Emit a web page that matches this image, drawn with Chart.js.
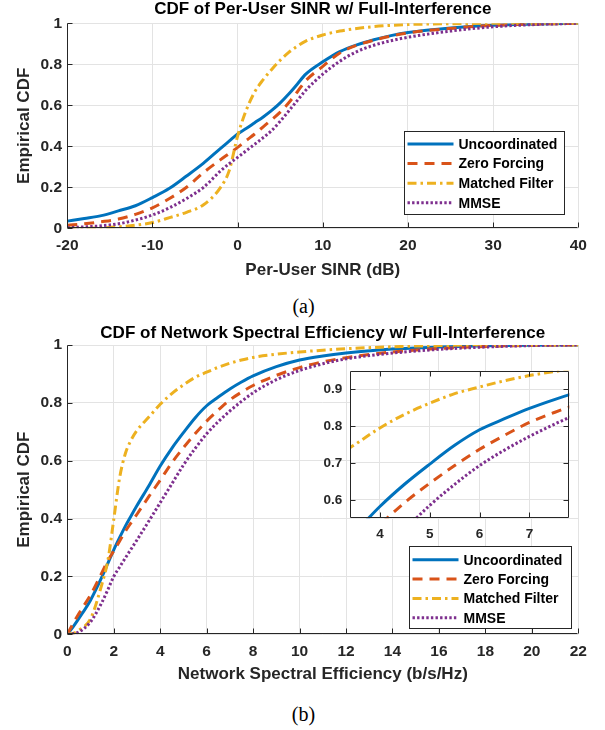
<!DOCTYPE html>
<html>
<head>
<meta charset="utf-8">
<script src="https://cdn.jsdelivr.net/npm/chart.js@4.4.1/dist/chart.umd.min.js"></script>
<style>
  body { margin: 0; background: #fff; width: 605px; height: 730px; position: relative; overflow: hidden; }
  canvas { position: absolute; }
  .cap { position: absolute; left: 0; width: 607px; text-align: center; font: 20px "Liberation Serif", "Times New Roman", serif; color: #000; }
</style>
</head>
<body>
<canvas id="chartA" width="605" height="290" style="left:0;top:0"></canvas>
<div class="cap" style="top:295px">(a)</div>
<canvas id="chartB" width="605" height="366" style="left:0;top:324px"></canvas>
<canvas id="inset" width="270" height="200" style="left:310px;top:355px"></canvas>
<div class="cap" style="top:703px">(b)</div>
<script>
// series shared by both plots
const seriesNames = ['Uncoordinated', 'Zero Forcing', 'Matched Filter', 'MMSE'];
const lineColors = ['#0072BD', '#D95319', '#EDB120', '#7E2F8E'];
const lineDashes = [[], [10, 7], [9, 4, 2.5, 4], [2.4, 2.2]];

// (a) per-user SINR (dB)
const sinrX    = [-20, -18, -16, -14, -12, -10, -8, -6, -4, -2, -1, 0, 1, 2, 3, 4, 5, 6, 7, 8, 10, 12, 14, 16, 18, 20, 25, 30, 35, 40];
const sinrUnc  = [0.035, 0.048, 0.062, 0.085, 0.11, 0.15, 0.195, 0.255, 0.318, 0.39, 0.425, 0.46, 0.487, 0.515, 0.543, 0.575, 0.612, 0.655, 0.703, 0.752, 0.812, 0.862, 0.895, 0.92, 0.94, 0.955, 0.977, 0.99, 0.996, 1];
const sinrZF   = [0.015, 0.022, 0.032, 0.045, 0.068, 0.1, 0.145, 0.2, 0.272, 0.335, 0.365, 0.395, 0.428, 0.46, 0.495, 0.53, 0.567, 0.612, 0.665, 0.72, 0.79, 0.855, 0.893, 0.918, 0.938, 0.953, 0.975, 0.99, 0.996, 1];
const sinrMF   = [0, 0, 0.002, 0.007, 0.015, 0.028, 0.052, 0.078, 0.115, 0.2, 0.28, 0.45, 0.575, 0.665, 0.725, 0.775, 0.82, 0.858, 0.888, 0.913, 0.943, 0.962, 0.975, 0.984, 0.99, 0.994, 0.998, 1, 1, 1];
const sinrMMSE = [0.003, 0.007, 0.012, 0.022, 0.04, 0.065, 0.1, 0.145, 0.2, 0.28, 0.315, 0.346, 0.378, 0.41, 0.442, 0.477, 0.522, 0.572, 0.623, 0.673, 0.752, 0.815, 0.862, 0.893, 0.915, 0.932, 0.962, 0.983, 0.994, 1];
const sinrTicks = [-20, -10, 0, 10, 20, 30, 40];

// (b) network spectral efficiency (b/s/Hz)
const seX    = [0, 0.25, 0.5, 1, 1.5, 1.75, 2, 2.25, 2.5, 2.75, 3, 3.5, 4, 4.5, 5, 5.5, 6, 6.5, 7, 7.5, 8, 9, 10, 11, 12, 14, 16, 18, 20, 22];
const seUnc  = [0, 0.026, 0.055, 0.118, 0.2, 0.246, 0.292, 0.334, 0.374, 0.41, 0.445, 0.512, 0.582, 0.643, 0.697, 0.748, 0.79, 0.82, 0.848, 0.872, 0.893, 0.925, 0.948, 0.962, 0.972, 0.986, 0.993, 0.997, 0.999, 1];
const seZF   = [0, 0.037, 0.072, 0.136, 0.215, 0.255, 0.288, 0.322, 0.356, 0.386, 0.415, 0.475, 0.533, 0.593, 0.645, 0.693, 0.737, 0.775, 0.81, 0.837, 0.86, 0.895, 0.922, 0.942, 0.956, 0.976, 0.988, 0.995, 0.999, 1];
const seMF   = [0, 0.003, 0.014, 0.054, 0.176, 0.257, 0.397, 0.54, 0.625, 0.672, 0.705, 0.75, 0.795, 0.832, 0.862, 0.888, 0.906, 0.923, 0.937, 0.948, 0.957, 0.968, 0.976, 0.982, 0.987, 0.994, 0.998, 1, 1, 1];
const seMMSE = [0, 0.002, 0.008, 0.043, 0.112, 0.155, 0.2, 0.232, 0.264, 0.295, 0.326, 0.39, 0.455, 0.52, 0.585, 0.642, 0.693, 0.735, 0.772, 0.805, 0.835, 0.88, 0.912, 0.935, 0.952, 0.972, 0.985, 0.993, 0.998, 1];
const seTicks = [0, 2, 4, 6, 8, 10, 12, 14, 16, 18, 20, 22];

const cdfTicks = [0, 0.2, 0.4, 0.6, 0.8, 1];
const cdfTickLabels = ['0', '0.2', '0.4', '0.6', '0.8', '1'];

// zoomed inset of (b)
const insetXTicks = [4, 5, 6, 7];
const insetYTicks = [0.6, 0.7, 0.8, 0.9];
const insetYTickLabels = ['0.6', '0.7', '0.8', '0.9'];

const FAMILY = '"Liberation Sans", Arial, Helvetica, sans-serif';
const AXIS_COLOR = '#262626';
const GRID_COLOR = '#e3e3e3';

function makeSets(xs, cols, clip) {
  return cols.map((ys, i) => {
    const ds = {
      label: seriesNames[i],
      data: xs.map((x, k) => ({ x: x, y: ys[k] })),
      borderColor: lineColors[i],
      borderDash: lineDashes[i],
      borderWidth: 3,
      borderCapStyle: 'butt',
      borderJoinStyle: 'round',
      pointRadius: 0,
      fill: false,
      cubicInterpolationMode: 'monotone',
      order: cols.length - i
    };
    if (clip !== undefined) ds.clip = clip;
    return ds;
  });
}

// matlab style: inward ticks, dark axis lines, optional full box / white background
const matlabAxes = {
  id: 'matlabAxes',
  beforeDraw(chart, args, o) {
    if (!o.white) return;
    const a = chart.chartArea;
    chart.ctx.save();
    chart.ctx.fillStyle = '#fff';
    chart.ctx.fillRect(a.left, a.top, a.right - a.left, a.bottom - a.top);
    chart.ctx.restore();
  },
  afterDatasetsDraw(chart, args, o) {
    const { ctx, chartArea: a, scales } = chart;
    const t = 5;
    const L = Math.round(a.left) + 0.5, R = Math.round(a.right) - 0.5;
    const T = Math.round(a.top) + 0.5, B = Math.round(a.bottom) - 0.5;
    ctx.save();
    ctx.strokeStyle = AXIS_COLOR;
    ctx.lineWidth = 1;
    ctx.beginPath();
    scales.x.ticks.forEach(tk => {
      const px = Math.round(scales.x.getPixelForValue(tk.value)) + 0.5;
      ctx.moveTo(px, B); ctx.lineTo(px, B - t);
      if (o.box) { ctx.moveTo(px, T); ctx.lineTo(px, T + t); }
    });
    scales.y.ticks.forEach(tk => {
      const py = Math.round(scales.y.getPixelForValue(tk.value)) + 0.5;
      ctx.moveTo(L, py); ctx.lineTo(L + t, py);
      if (o.box) { ctx.moveTo(R, py); ctx.lineTo(R - t, py); }
    });
    ctx.moveTo(L, T); ctx.lineTo(L, B); ctx.lineTo(R, B);
    if (o.box) { ctx.lineTo(R, T); ctx.lineTo(L, T); }
    ctx.stroke();
    ctx.restore();
  },
  // title centred over the plot box, like matlab does
  afterDraw(chart, args, o) {
    if (!o.title) return;
    const { ctx, chartArea: a } = chart;
    ctx.save();
    ctx.fillStyle = '#000';
    ctx.font = 'bold 17px ' + FAMILY;
    ctx.textAlign = 'center';
    ctx.textBaseline = 'middle';
    ctx.fillText(o.title, (a.left + a.right) / 2, o.titleY);
    ctx.restore();
  }
};

// legend box placed inside the plot, lower right
const cdfLegend = {
  id: 'cdfLegend',
  afterDraw(chart, args, o) {
    if (!o.show) return;
    const { ctx, chartArea: a } = chart;
    const x1 = Math.round(a.right - o.right - o.width) + 0.5;
    const y1 = Math.round(a.bottom - o.bottom - o.height) + 0.5;
    ctx.save();
    ctx.fillStyle = '#fff';
    ctx.fillRect(x1, y1, o.width, o.height);
    ctx.strokeStyle = AXIS_COLOR;
    ctx.lineWidth = 1;
    ctx.strokeRect(x1, y1, o.width, o.height);
    chart.data.datasets.forEach((ds, i) => {
      const yy = y1 + o.firstRow + i * o.rowGap;
      ctx.beginPath();
      ctx.setLineDash(ds.borderDash);
      ctx.lineCap = 'butt';
      ctx.strokeStyle = ds.borderColor;
      ctx.lineWidth = ds.borderWidth;
      ctx.moveTo(x1 + 3, yy);
      ctx.lineTo(x1 + 49, yy);
      ctx.stroke();
      ctx.setLineDash([]);
      ctx.fillStyle = '#000';
      ctx.font = 'bold 14px ' + FAMILY;
      ctx.textBaseline = 'middle';
      ctx.textAlign = 'left';
      ctx.fillText(ds.label, x1 + 54, yy + 1);
    });
    ctx.restore();
  }
};

function cdfOptions(p) {
  return {
    responsive: false,
    animation: false,
    events: [],
    layout: { padding: p.pad },
    plugins: {
      legend: { display: false },
      tooltip: { enabled: false },
      title: { display: false },
      matlabAxes: { box: p.box, white: p.box, title: p.title, titleY: 9.35 },
      cdfLegend: p.legend || { show: false }
    },
    scales: {
      x: {
        type: 'linear',
        min: p.xMin, max: p.xMax,
        afterBuildTicks: s => { s.ticks = p.xTicks.map(v => ({ value: v })); },
        afterFit: s => { s.height = p.xHeight; },
        grid: { color: GRID_COLOR, drawTicks: false },
        border: { display: false },
        ticks: {
          padding: p.xPad, color: AXIS_COLOR, maxRotation: 0, autoSkip: false,
          font: { family: FAMILY, size: p.tickSize, weight: 'bold' },
          callback: (v, i) => p.xLabels[i]
        },
        title: {
          display: !!p.xTitle, text: p.xTitle, color: AXIS_COLOR,
          font: { family: FAMILY, size: 17, weight: 'bold', lineHeight: 1.1 },
          padding: { top: 0, bottom: p.xTitleGap }
        }
      },
      y: {
        type: 'linear',
        min: p.yMin, max: p.yMax,
        afterBuildTicks: s => { s.ticks = p.yTicks.map(v => ({ value: v })); },
        afterFit: s => { s.width = p.yWidth; },
        grid: { color: GRID_COLOR, drawTicks: false },
        border: { display: false },
        ticks: {
          padding: p.yPad, color: AXIS_COLOR, autoSkip: false,
          font: { family: FAMILY, size: p.tickSize, weight: 'bold' },
          callback: (v, i) => p.yLabels[i]
        },
        title: {
          display: !!p.yTitle, text: p.yTitle, color: AXIS_COLOR,
          font: { family: FAMILY, size: 17, weight: 'bold', lineHeight: 1.1 },
          padding: { top: 14.65, bottom: 0 }
        }
      }
    }
  };
}

new Chart(document.getElementById('chartA'), {
  type: 'line',
  data: { datasets: makeSets(sinrX, [sinrUnc, sinrZF, sinrMF, sinrMMSE]) },
  options: cdfOptions({
    pad: { left: 0, right: 26.7, top: 23.3, bottom: 0 },
    title: 'CDF of Per-User SINR w/ Full-Interference',
    xMin: -20, xMax: 40, xTicks: sinrTicks, xLabels: sinrTicks.map(String),
    yMin: 0, yMax: 1, yTicks: cdfTicks, yLabels: cdfTickLabels,
    xHeight: 61.7, yWidth: 67.3, xPad: 8.3, yPad: 5.3, tickSize: 15.5,
    xTitle: 'Per-User SINR (dB)', xTitleGap: 10.65, yTitle: 'Empirical CDF',
    box: false,
    legend: { show: true, right: 14.5, bottom: 14.8, width: 160, height: 83, firstRow: 12.5, rowGap: 19.6 }
  }),
  plugins: [matlabAxes, cdfLegend]
});

new Chart(document.getElementById('chartB'), {
  type: 'line',
  data: { datasets: makeSets(seX, [seUnc, seZF, seMF, seMMSE]) },
  options: cdfOptions({
    pad: { left: 0, right: 26.7, top: 21, bottom: 0 },
    title: 'CDF of Network Spectral Efficiency w/ Full-Interference',
    xMin: 0, xMax: 22, xTicks: seTicks, xLabels: seTicks.map(String),
    yMin: 0, yMax: 1, yTicks: cdfTicks, yLabels: cdfTickLabels,
    xHeight: 55.7, yWidth: 67.3, xPad: 8.3, yPad: 5.3, tickSize: 15.5,
    xTitle: 'Network Spectral Efficiency (b/s/Hz)', xTitleGap: 6.65, yTitle: 'Empirical CDF',
    box: false,
    legend: { show: true, right: 7.5, bottom: 6.6, width: 162, height: 82, firstRow: 13.3, rowGap: 19.3 }
  }),
  plugins: [matlabAxes, cdfLegend]
});

new Chart(document.getElementById('inset'), {
  type: 'line',
  data: { datasets: makeSets(seX, [seUnc, seZF, seMF, seMMSE], 0) },
  options: cdfOptions({
    pad: { left: 0, right: 10.7, top: 10, bottom: 0 },
    title: '',
    xMin: 3.4, xMax: 7.8, xTicks: insetXTicks, xLabels: insetXTicks.map(String),
    yMin: 0.55, yMax: 0.95, yTicks: insetYTicks, yLabels: insetYTickLabels,
    xHeight: 36.7, yWidth: 40, xPad: 7.6, yPad: 7.7, tickSize: 13.5,
    xTitle: '', xTitleGap: 0, yTitle: '',
    box: true
  }),
  plugins: [matlabAxes, cdfLegend]
});
</script>
</body>
</html>
